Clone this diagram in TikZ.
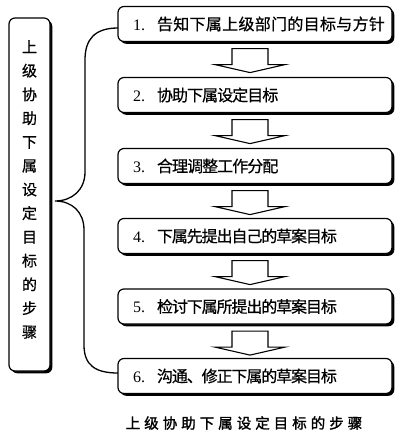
\documentclass[tikz,border=0pt]{standalone}
\usepackage{fontspec}
\setmainfont{Liberation Serif}
\newfontfamily\cjk{Noto Sans CJK SC}[FakeBold=0.6]
\newfontfamily\cjkb{Noto Sans CJK SC}[FakeBold=1.6]
\usetikzlibrary{shadows,calc}
\newdimen\lspamt
\lspamt=0pt
\def\lsp#1{\lspA#1\relax}
\def\lspA#1{\ifx#1\relax\else#1\kern\lspamt\expandafter\lspA\fi}
\tikzset{
  boxshadow/.style={drop shadow={shadow xshift=2.3pt, shadow yshift=-2.3pt, opacity=1, fill=black}},
  stepbox/.style={draw=black, line width=1.2pt, fill=white, rounded corners=6pt,
    minimum width=274pt, minimum height=35pt, text width=244pt, align=left,
    inner sep=0pt, boxshadow, font=\fontsize{16}{18}\selectfont},
  sidebox/.style={draw=black, line width=1.2pt, fill=white, rounded corners=6pt,
    minimum width=41pt, minimum height=353pt, inner sep=0pt, boxshadow},
  sidetext/.style={align=center, inner sep=0pt, font=\cjk\fontsize{15}{23.75}\selectfont},
  blockarrow/.style={draw=black, line width=1.1pt, fill=white, line join=miter},
  bracket/.style={draw=black, line width=1.3pt},
  captiontext/.style={inner sep=0pt, font=\cjkb\fontsize{14.5}{16}\selectfont}
}
\begin{document}
\begin{tikzpicture}[x=1pt,y=-1pt]
\useasboundingbox (0,0) rectangle (401,444);
% bracket
\coordinate (bp) at (55,201);
\node[sidebox] (side) at (29.5,194.5) {};
\node[sidetext] (sidet) at (29.5,189.5) {上\\级\\协\\助\\下\\属\\设\\定\\目\\标\\的\\步\\骤};
\draw[bracket] (118,28) .. controls (94,28) and (85,40) .. (85,60) -- (85,172)
   .. controls (85,190) and (72,201) .. (bp)
   .. controls (72,201) and (84,212) .. (84,230) -- (84,345)
   .. controls (84,365) and (95,373) .. (118,373);
% steps
\node[stepbox] (b1) at (255,24) {\mbox{1.\hspace{12pt}{\cjk\lspamt=0.3pt\lsp{告知下属上级部门的目标与方针}}}};
\node[stepbox] (b2) at (255,95) {\mbox{2.\hspace{12pt}{\cjk\lspamt=-0.95pt\lsp{协助下属设定目标}}}};
\node[stepbox] (b3) at (255,166) {\mbox{3.\hspace{12pt}{\cjk\lspamt=-0.95pt\lsp{合理调整工作分配}}}};
\node[stepbox] (b4) at (255,236) {\mbox{4.\hspace{12pt}{\cjk\lspamt=-1.1pt\lsp{下属先提出自己的草案目标}}}};
\node[stepbox] (b5) at (255,306.5) {\mbox{5.\hspace{12pt}{\cjk\lspamt=-1.1pt\lsp{检讨下属所提出的草案目标}}}};
\node[stepbox] (b6) at (255,376) {\mbox{6.\hspace{12pt}{\cjk\lspamt=-1.1pt\lsp{沟通、修正下属的草案目标}}}};
% block arrows
\foreach \a/\b in {b1/b2,b2/b3,b3/b4,b4/b5,b5/b6}{
  \draw[blockarrow] ($(\a.south)+(-23,6.5)$) -- ++(0,16) -- ++(-17,0) -- ++(35,8)
     -- ++(35,-8) -- ++(-17,0) -- ++(0,-16) -- cycle;
}
% caption
\node[captiontext] (cap) at (246,423) {\lspamt=4pt\lsp{上级协助下属设定目标的步骤}};
\end{tikzpicture}
\end{document}
